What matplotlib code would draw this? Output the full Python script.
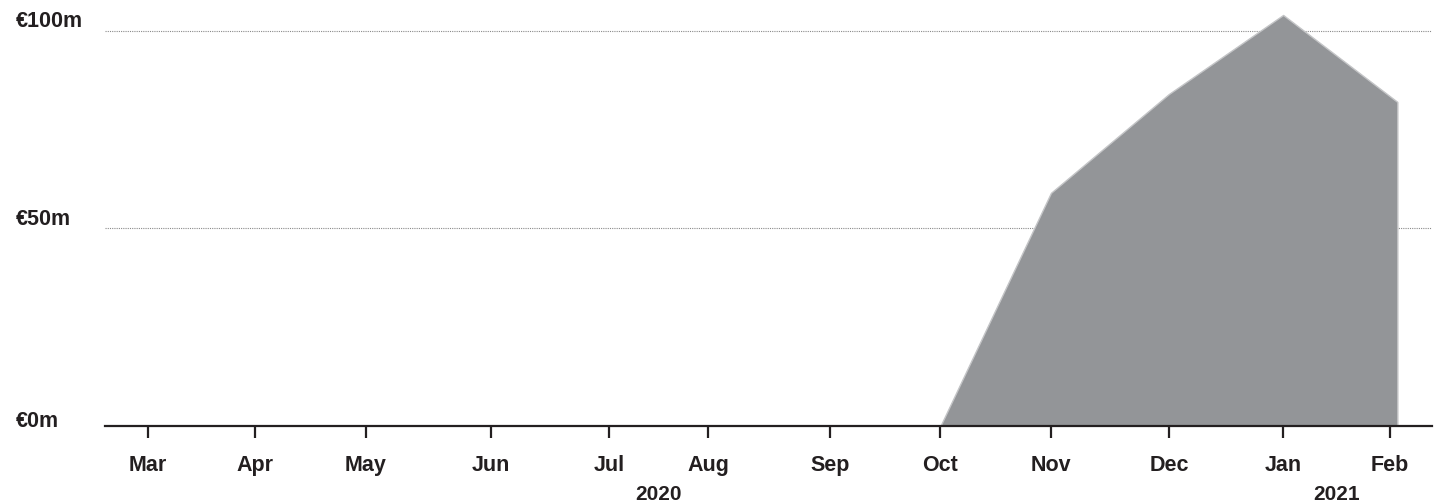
import matplotlib.pyplot as plt
import matplotlib.dates as mdates
import matplotlib.transforms as mtransforms
from datetime import datetime, timedelta

# Data (values in € millions)
tick_dates = ["2020-03-10", "2020-04-08", "2020-05-08", "2020-06-11", "2020-07-13",
              "2020-08-09", "2020-09-11", "2020-10-11", "2020-11-10", "2020-12-12",
              "2021-01-12", "2021-02-10"]
month_labels = ["Mar", "Apr", "May", "Jun", "Jul", "Aug", "Sep", "Oct",
                "Nov", "Dec", "Jan", "Feb"]
data_dates = ["2020-03-10", "2020-04-08", "2020-05-08", "2020-06-11", "2020-07-13",
              "2020-08-09", "2020-09-11", "2020-10-11", "2020-11-10", "2020-12-12",
              "2021-01-12", "2021-02-12"]
values = [0, 0, 0, 0, 0, 0, 0, 0, 59, 84, 104, 82]
ytick_values = [0, 50, 100]
ytick_labels = ["€0m", "€50m", "€100m"]
years = ["2020", "2021"]

plt.rcParams['font.family'] = ['Liberation Sans', 'DejaVu Sans']
text_color = '#231f20'

xt = [datetime.strptime(d, "%Y-%m-%d") for d in tick_dates]
x = [datetime.strptime(d, "%Y-%m-%d") for d in data_dates]

fig = plt.figure(figsize=(14.48, 5.02), dpi=100)
ax = fig.add_axes([105 / 1448, 75 / 502, (1432 - 105) / 1448, (427 - 12) / 502])

ax.fill_between(x, values, 0, color='#939598', edgecolor='#c4c5c7', linewidth=1, zorder=2)

ax.set_xlim(xt[0] - timedelta(days=11.7), xt[-1] + timedelta(days=11.4))
ax.set_ylim(0, 105)

# dotted grid lines
for v in ytick_values[1:]:
    ax.axhline(v, color='#8a8a8a', linestyle=(0, (1, 1)), linewidth=0.8, zorder=1)

for s in ['top', 'right', 'left']:
    ax.spines[s].set_visible(False)
ax.spines['bottom'].set_color(text_color)
ax.spines['bottom'].set_linewidth(1.6)
ax.spines['bottom'].set_zorder(3)

ax.set_yticks([])
ax.set_xticks(xt)
ax.set_xticklabels(month_labels, fontsize=15.5, fontweight='bold', color=text_color)
ax.tick_params(axis='x', length=8.5, width=1.6, color=text_color, pad=12)

# y labels at far left
trans = mtransforms.blended_transform_factory(fig.transFigure, ax.transData)
for v, lab in zip(ytick_values, ytick_labels):
    off = 5 if v == 0 else 10
    ax.text(16 / 1448, v, lab, transform=trans + mtransforms.ScaledTranslation(0, off / 100, fig.dpi_scale_trans),
            ha='left', va='center', fontsize=15.5, fontweight='bold', color=text_color)

# year labels centred under their months
xnum = mdates.date2num(xt)
for yr in years:
    idx = [i for i, d in enumerate(xt) if str(d.year) == yr]
    cx = (xnum[idx[0]] + xnum[idx[-1]]) / 2
    ax.text(cx, (502 - 485) / 502, yr, transform=mtransforms.blended_transform_factory(ax.transData, fig.transFigure),
            ha='center', va='top', fontsize=15, fontweight='bold', color=text_color)

fig.savefig("out.png", dpi=100)
